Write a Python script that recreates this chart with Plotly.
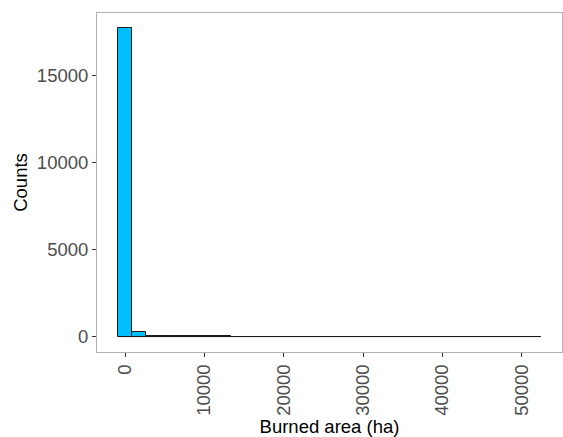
import plotly.graph_objects as go

# Histogram of burned area: 30 equal-width bins
bin_start = -890.0
bin_width = 1777.0
counts = [17730, 250, 60, 25, 15, 10, 8, 6, 5, 4, 3, 3, 2, 2, 1,
          1, 1, 1, 1, 0, 1, 0, 0, 1, 0, 0, 0, 0, 0, 1]
y_ticks = [0, 5000, 10000, 15000]
x_ticks = [0, 10000, 20000, 30000, 40000, 50000]

centers = [bin_start + bin_width * (i + 0.5) for i in range(len(counts))]
bin_end = bin_start + bin_width * len(counts)

fig = go.Figure()
fig.add_trace(go.Bar(
    x=centers, y=counts, width=[bin_width] * len(counts),
    marker=dict(color="#00BFFF", line=dict(color="#1a1a1a", width=1)),
    hoverinfo="x+y", showlegend=False,
))
# outline of empty bins along the baseline
fig.add_trace(go.Scatter(
    x=[bin_start, bin_end], y=[0, 0], mode="lines",
    line=dict(color="#1a1a1a", width=1), hoverinfo="skip", showlegend=False,
))

# ggplot-style 5% expansion of the data range
span_x = bin_end - bin_start
ymax = max(counts)
x_range = [bin_start - 0.05 * span_x, bin_end + 0.05 * span_x]
y_range = [-0.05 * ymax, ymax * 1.05]

font = "Liberation Sans, Arial, sans-serif"
fig.update_layout(
    width=563, height=437,
    margin=dict(l=97, r=1, t=13, b=85),
    plot_bgcolor="white", paper_bgcolor="white",
    font=dict(family=font, size=18.5, color="#4d4d4d"),
    bargap=0,
    xaxis=dict(
        range=x_range, tickvals=x_ticks, ticktext=[str(v) for v in x_ticks],
        tickangle=-90, ticks="outside", ticklen=4, tickcolor="#333333",
        showline=True, linecolor="#b0b0b0", linewidth=1, mirror=True,
        showgrid=False, zeroline=False,
        title=dict(text="Burned area (ha)", font=dict(size=18.5, color="black"), standoff=2),
    ),
    yaxis=dict(
        range=y_range, tickvals=y_ticks, ticktext=[str(v) for v in y_ticks],
        ticks="outside", ticklen=4, tickcolor="#333333",
        showline=True, linecolor="#b0b0b0", linewidth=1, mirror=True,
        showgrid=False, zeroline=False,
        title=dict(text="Counts", font=dict(size=18.5, color="black"), standoff=4),
    ),
)

fig.write_html("out.html")
